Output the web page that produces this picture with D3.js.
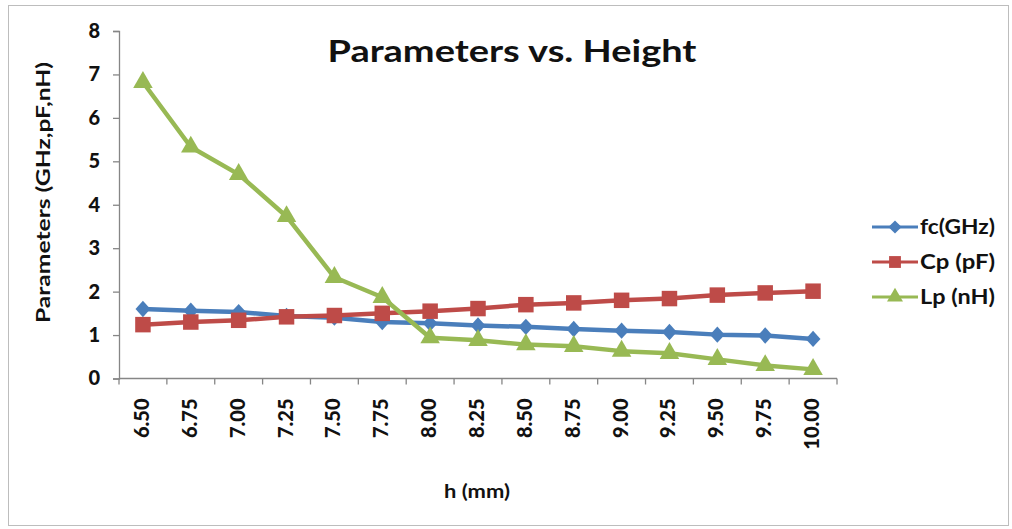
<!DOCTYPE html>
<html><head><meta charset="utf-8">
<script src="https://cdn.jsdelivr.net/npm/d3@7"></script>
<style>body{margin:0;background:#fff}svg{display:block}text{font-family:Lato,"Open Sans",sans-serif}</style>
</head><body>
<svg id="c" width="1012" height="529"></svg>
<script>
const categories = ["6.50","6.75","7.00","7.25","7.50","7.75","8.00","8.25","8.50","8.75","9.00","9.25","9.50","9.75","10.00"];
const fcGHz = [1.60,1.56,1.53,1.44,1.40,1.30,1.27,1.22,1.19,1.14,1.10,1.07,1.01,0.99,0.91];
const CpPF  = [1.24,1.30,1.34,1.42,1.45,1.50,1.55,1.61,1.70,1.74,1.80,1.84,1.92,1.97,2.01];
const LpNH  = [6.82,5.33,4.70,3.73,2.33,1.87,0.94,0.88,0.78,0.74,0.63,0.58,0.44,0.30,0.21];
const yTicks = [0,1,2,3,4,5,6,7,8];
const seriesNames = ["fc(GHz)","Cp (pF)","Lp (nH)"];

const svg = d3.select("#c");
const L=119,R=837,T=31,B=378.5;
const x = d3.scaleBand().domain(categories).range([L,R]).padding(0);
const y = d3.scaleLinear().domain([0,8]).range([B,T]);

svg.append("rect").attr("x",8.5).attr("y",5.5).attr("width",1000).attr("height",520)
  .attr("fill","#fff").attr("stroke","#bdbdbd").attr("stroke-width",1);

const axisColor="#868686";
const ya = svg.append("g").attr("transform",`translate(${L},0)`)
  .call(d3.axisLeft(y).tickValues(yTicks).tickSize(6).tickPadding(13).tickFormat(d3.format("d")));
ya.select(".domain").attr("stroke",axisColor).attr("stroke-width",1.3);
ya.selectAll(".tick line").attr("stroke",axisColor).attr("stroke-width",1.3);
ya.selectAll(".tick text").attr("font-size",20).attr("font-weight",900).attr("fill","#111").attr("font-family","Lato");

const xa = svg.append("g").attr("transform",`translate(0,${B})`)
  .call(d3.axisBottom(x).tickSize(0).tickPadding(0));
xa.select(".domain").remove();
xa.selectAll(".tick text")
  .attr("font-size",20).attr("font-weight",900).attr("fill","#111").attr("font-family","Lato")
  .attr("text-anchor","end").attr("dy",null)
  .attr("transform","translate(6,20) rotate(-90)");
const bounds = categories.map(c=>x(c)).concat([x(categories[categories.length-1])+x.bandwidth()]);
const xt = svg.append("g");
xt.append("line").attr("x1",L).attr("x2",R).attr("y1",B).attr("y2",B).attr("stroke",axisColor).attr("stroke-width",1.3);
xt.selectAll("line.t").data(bounds).join("line").attr("class","t")
  .attr("x1",d=>d).attr("x2",d=>d).attr("y1",B).attr("y2",B+6).attr("stroke",axisColor).attr("stroke-width",1.3);

const colors=["#4A7EBB","#BE4B48","#98B954"];
const seriesData=[fcGHz,CpPF,LpNH];
const cx = c => x(c)+x.bandwidth()/2;
const line = d3.line().x((d,i)=>cx(categories[i])).y(d=>y(d));
const markerPath = [
  d3.symbol().type(d3.symbolDiamond2).size(140)(),
  d3.symbol().type(d3.symbolSquare).size(240)(),
  d3.symbol().type(d3.symbolTriangle).size(165)()
];
[0,1,2].forEach(k=>{
  const g = svg.append("g");
  g.append("path").datum(seriesData[k]).attr("d",line).attr("fill","none")
    .attr("stroke",colors[k]).attr("stroke-width",4.5).attr("stroke-linejoin","round");
  g.selectAll("path.m").data(seriesData[k]).join("path").attr("class","m")
    .attr("d",markerPath[k]).attr("fill",colors[k])
    .attr("transform",(d,i)=>`translate(${cx(categories[i])},${y(d)})`+(k===0?" scale(1,1.1)":""));
});

svg.append("text").attr("x",512).attr("y",62).attr("text-anchor","middle")
  .attr("font-size",31).attr("font-weight",700).attr("fill","#111")
  .attr("textLength",369).attr("lengthAdjust","spacingAndGlyphs").text("Parameters vs. Height");

svg.append("text").attr("transform","translate(50,192.5) rotate(-90)").attr("text-anchor","middle")
  .attr("font-size",18).attr("font-weight",700).attr("fill","#111")
  .attr("textLength",261).attr("lengthAdjust","spacingAndGlyphs").text("Parameters (GHz,pF,nH)");

svg.append("text").attr("x",477).attr("y",498).attr("text-anchor","middle")
  .attr("font-size",18).attr("font-weight",700).attr("fill","#111")
  .attr("textLength",66).attr("lengthAdjust","spacingAndGlyphs").text("h (mm)");

const legY=[227,262,297];
const lg = svg.append("g");
seriesNames.forEach((n,k)=>{
  lg.append("line").attr("x1",872).attr("x2",918).attr("y1",legY[k]).attr("y2",legY[k])
    .attr("stroke",colors[k]).attr("stroke-width",3);
  lg.append("path").attr("d",d3.symbol().type([d3.symbolDiamond2,d3.symbolSquare,d3.symbolTriangle][k]).size(k===1?140:110)())
    .attr("fill",colors[k]).attr("transform",`translate(895,${legY[k]})`);
  lg.append("text").attr("x",920).attr("y",legY[k]+7).attr("font-size",20).attr("font-weight",700)
    .attr("fill","#111").attr("textLength",75).attr("lengthAdjust","spacingAndGlyphs").text(n);
});
</script>
</body></html>
